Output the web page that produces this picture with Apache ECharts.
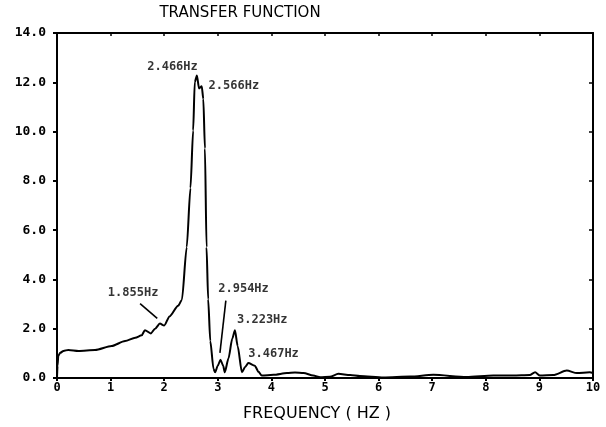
<!DOCTYPE html>
<html>
<head>
<meta charset="utf-8">
<script src="https://cdn.jsdelivr.net/npm/echarts@6/dist/echarts.min.js"></script>
<style>html,body{margin:0;padding:0;background:#fff}#c{width:606px;height:427px}</style>
</head>
<body>
<div id="c"></div>
<script>
var titleText = 'TRANSFER FUNCTION';
var xAxisName = 'FREQUENCY ( HZ )';
var xTicks = [0,1,2,3,4,5,6,7,8,9,10];
var yTicks = [0,2,4,6,8,10,12,14];

var freq = [0,0.01,0.024,0.06,0.12,0.21,0.40,0.71,1.02,1.27,
  1.46,1.58,1.64,1.75,1.83,1.92,2.00,2.10,2.26,2.33,
  2.42,2.49,2.54,2.57,2.61,2.65,2.70,2.73,2.76,2.79,
  2.82,2.86,2.92,2.95,3.00,3.05,3.10,3.13,3.20,3.27,
  3.32,3.37,3.45,3.51,3.57,3.69,3.76,3.82,4.04,4.29,
  4.44,4.60,4.78,4.91,5.09,5.25,5.47,5.65,6.09,6.59,
  7.02,7.64,8.14,8.51,8.82,8.92,9.01,9.26,9.51,9.70,
  9.94,10];
var amp = [0,0.5,0.9,1.02,1.1,1.14,1.1,1.14,1.30,1.50,
  1.63,1.73,1.94,1.81,2.0,2.21,2.13,2.5,2.93,3.17,
  5.31,7.71,10.04,12.0,12.28,11.75,11.84,11.32,9.31,5.31,
  3.2,1.5,0.37,0.23,0.5,0.74,0.5,0.23,0.8,1.6,
  1.94,1.3,0.23,0.45,0.61,0.5,0.25,0.1,0.13,0.2,
  0.22,0.2,0.1,0.03,0.05,0.17,0.12,0.08,0.02,0.06,
  0.13,0.04,0.1,0.1,0.12,0.23,0.1,0.12,0.3,0.2,
  0.23,0.2];

var annoText = ['2.466Hz','2.566Hz','1.855Hz','2.954Hz','3.223Hz','3.467Hz'];
var annoX = [2.155,3.30,1.42,3.48,3.83,4.04];
var annoY = [12.64,11.84,3.47,3.61,2.34,0.98];

var leaderX1 = [1.55,3.15];
var leaderY1 = [3.02,3.14];
var leaderX2 = [1.87,3.04];
var leaderY2 = [2.42,1.02];

var curve = freq.map(function(f,i){ return [f, amp[i]]; });
var annoData = annoText.map(function(t,i){ return {name:t, value:[annoX[i], annoY[i]]}; });
var leaders = leaderX1.map(function(x,i){
  return [{coord:[x, leaderY1[i]]},{coord:[leaderX2[i], leaderY2[i]]}];
});

var chart = echarts.init(document.getElementById('c'), null, {renderer:'canvas'});
var axisFont = {fontFamily:'DejaVu Sans Mono', fontWeight:'bold', color:'#000'};
chart.setOption({
  animation:false,
  backgroundColor:'#fff',
  title:{text:titleText, left:235, top:1, textAlign:'center',
    textStyle:{fontFamily:'DejaVu Sans', fontWeight:'normal', fontSize:15, color:'#000'}},
  grid:{left:57, right:13, top:33, bottom:44},
  xAxis:[{
    type:'value', min:0, max:10, interval:1, position:'bottom',
    name:xAxisName, nameLocation:'middle', nameGap:28,
    nameTextStyle:{fontFamily:'DejaVu Sans', fontSize:16, color:'#000', padding:[0,16,0,0]},
    axisLine:{show:true, onZero:false, lineStyle:{color:'#000', width:2}},
    axisTick:{show:true, inside:false, length:3, lineStyle:{color:'#000', width:2}},
    axisLabel:Object.assign({margin:4, fontSize:12, formatter:function(v){ return xTicks.indexOf(v)>=0 ? String(v) : ''; }}, axisFont),
    splitLine:{show:false}
  },{
    type:'value', min:0, max:10, interval:1, position:'top',
    axisLine:{show:true, onZero:false, lineStyle:{color:'#000', width:2}},
    axisTick:{show:true, inside:true, length:3, lineStyle:{color:'#000', width:1.5}},
    axisLabel:{show:false}, splitLine:{show:false}
  }],
  yAxis:[{
    type:'value', min:0, max:14, interval:2, position:'left',
    axisLine:{show:true, onZero:false, lineStyle:{color:'#000', width:2}},
    axisTick:{show:true, inside:false, length:4, lineStyle:{color:'#000', width:2}},
    axisLabel:Object.assign({margin:11, fontSize:13, formatter:function(v){ return yTicks.indexOf(v)>=0 ? v.toFixed(1) : ''; }}, axisFont),
    splitLine:{show:false}
  },{
    type:'value', min:0, max:14, interval:2, position:'right',
    axisLine:{show:true, onZero:false, lineStyle:{color:'#000', width:2}},
    axisTick:{show:true, inside:true, length:4, lineStyle:{color:'#000', width:1.5}},
    axisLabel:{show:false}, splitLine:{show:false}
  }],
  series:[{
    type:'line', data:curve, xAxisIndex:0, yAxisIndex:0,
    showSymbol:false, symbol:'none', smooth:0.25, smoothMonotone:'x',
    lineStyle:{color:'#000', width:2}
  },{
    type:'scatter', data:annoData, xAxisIndex:0, yAxisIndex:0,
    symbolSize:0, silent:true,
    label:{show:true, position:'inside', formatter:'{b}', textBorderWidth:0,
      fontFamily:'DejaVu Sans Mono', fontWeight:'bold', fontSize:12, color:'#000'},
    markLine:{silent:true, symbol:['none','none'], label:{show:false},
      lineStyle:{color:'#000', width:1.6, type:'solid'}, data:leaders}
  }]
});
</script>
</body>
</html>
